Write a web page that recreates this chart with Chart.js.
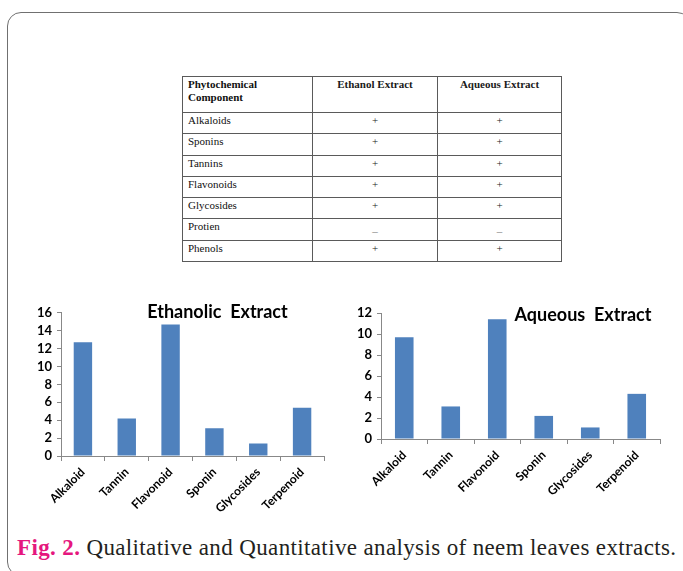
<!DOCTYPE html>
<html>
<head>
<meta charset="utf-8">
<script src="https://cdn.jsdelivr.net/npm/chart.js@4.4.0/dist/chart.umd.min.js"></script>
<style>
  html, body { margin: 0; padding: 0; background: #fff; }
  body { width: 683px; height: 571px; position: relative; overflow: hidden; font-family: "Liberation Serif", serif; }
  .frame { position: absolute; left: 7px; top: 12px; width: 684px; height: 564px; border: 1.5px solid #707070; border-radius: 14px; box-sizing: border-box; }
  table.qual { position: absolute; left: 182px; top: 76px; border-collapse: collapse; font-family: "Liberation Serif", serif; font-size: 11px; color: #111; table-layout: fixed; }
  table.qual td { border: 1px solid #5a5a5a; vertical-align: top; padding: 1px 5px 0 5px; height: 21.3px; box-sizing: border-box; line-height: 13px; }
  table.qual tr.head td { height: 36px; font-weight: bold; line-height: 13.3px; }
  table.qual td.c { text-align: center; color: #1a1a1a; }
  table.qual td.c span.neg { position: relative; top: 5px; color: #777; }
  .chart { position: absolute; }
  .caption { position: absolute; left: 17px; top: 535px; font-family: "Liberation Serif", serif; font-size: 23px; letter-spacing: 0.37px; color: #231f20; white-space: nowrap; }
  .caption b { color: #e5177e; }
</style>
</head>
<body>
<div class="frame"></div>
<table class="qual" id="qual">
  <colgroup><col style="width:130px"><col style="width:125px"><col style="width:124px"></colgroup>
</table>
<canvas id="ethanolChart" class="chart" width="310" height="220" style="left:20px;top:300px;"></canvas>
<canvas id="aqueousChart" class="chart" width="330" height="220" style="left:340px;top:300px;"></canvas>
<div class="caption"><b>Fig. 2.</b> Qualitative and Quantitative analysis of neem leaves extracts.</div>

<script>
// Qualitative screening results
const tableHeaders = ['Phytochemical<br>Component', 'Ethanol Extract', 'Aqueous Extract'];
const components = ['Alkaloids', 'Sponins', 'Tannins', 'Flavonoids', 'Glycosides', 'Protien', 'Phenols'];
const ethanolResults = ['+', '+', '+', '+', '+', '\u2013', '+'];
const aqueousResults = ['+', '+', '+', '+', '+', '\u2013', '+'];

// Quantitative results
const categories = ['Alkaloid', 'Tannin', 'Flavonoid', 'Sponin', 'Glycosides', 'Terpenoid'];
const ethanolValues = [12.7, 4.2, 14.7, 3.1, 1.4, 5.4];
const aqueousValues = [9.7, 3.1, 11.4, 2.2, 1.1, 4.3];
const ethanolTicks = { max: 16, step: 2 };
const aqueousTicks = { max: 12, step: 2 };

// Build the table
const tbl = document.getElementById('qual');
const head = document.createElement('tr');
head.className = 'head';
tableHeaders.forEach((h, i) => {
  const td = document.createElement('td');
  td.innerHTML = h;
  if (i > 0) td.className = 'c';
  head.appendChild(td);
});
tbl.appendChild(head);
components.forEach((name, i) => {
  const tr = document.createElement('tr');
  const cells = [name, ethanolResults[i], aqueousResults[i]];
  cells.forEach((v, j) => {
    const td = document.createElement('td');
    if (j > 0) {
      td.className = 'c';
      if (v === '+') td.textContent = v;
      else td.innerHTML = '<span class="neg">' + v + '</span>';
    } else td.textContent = v;
    tr.appendChild(td);
  });
  tbl.appendChild(tr);
});

Chart.defaults.font.family = 'Lato, "Open Sans", sans-serif';
Chart.defaults.color = '#000';

// Panel heading drawn inside the plot area
const panelTitle = {
  id: 'panelTitle',
  afterDraw(chart, args, opts) {
    const { ctx, chartArea } = chart;
    ctx.save();
    ctx.font = 'bold 18px Lato, sans-serif';
    ctx.fillStyle = '#000';
    ctx.textAlign = 'center';
    ctx.textBaseline = 'middle';
    const x = chartArea.left + opts.fx * (chartArea.right - chartArea.left);
    const y = chartArea.top + opts.dy;
    ctx.fillText(opts.text, x, y);
    ctx.restore();
  }
};

function makeChart(id, values, ticks, title, geom) {
  return new Chart(document.getElementById(id), {
    type: 'bar',
    data: {
      labels: categories,
      datasets: [{
        data: values,
        backgroundColor: '#4f81bd',
        borderWidth: 0,
        categoryPercentage: 1,
        barPercentage: geom.bar
      }]
    },
    options: {
      responsive: false,
      animation: false,
      events: [],
      layout: { padding: { top: geom.top, right: geom.right, bottom: 0, left: 0 } },
      plugins: {
        legend: { display: false },
        tooltip: { enabled: false },
        panelTitle: { text: title, fx: geom.tx, dy: geom.ty }
      },
      scales: {
        x: {
          grid: { display: true, drawOnChartArea: false, drawTicks: true, tickLength: 5, color: '#888', offset: true },
          border: { display: true, color: '#888', width: 1 },
          ticks: { font: { size: 12, weight: 'bold' }, maxRotation: 45, minRotation: 45, padding: 4, color: '#000', autoSkip: false },
          afterFit(scale) { scale.height = geom.xh; }
        },
        y: {
          min: 0,
          max: ticks.max,
          grid: { display: true, drawOnChartArea: false, drawTicks: true, tickLength: 4, color: '#888' },
          border: { display: true, color: '#888', width: 1 },
          ticks: { stepSize: ticks.step, font: { size: 13, weight: 'bold' }, padding: 5, color: '#000', autoSkip: false },
          afterFit(scale) { scale.width = geom.yw; }
        }
      }
    },
    plugins: [panelTitle]
  });
}

makeChart('ethanolChart', ethanolValues, ethanolTicks, 'Ethanolic  Extract',
  { top: 12, right: 6, xh: 64, yw: 41, bar: 0.42, tx: 0.595, ty: -1 });
makeChart('aqueousChart', aqueousValues, aqueousTicks, 'Aqueous  Extract',
  { top: 13, right: 10, xh: 81, yw: 41, bar: 0.4, tx: 0.724, ty: 2 });
</script>
</body>
</html>
